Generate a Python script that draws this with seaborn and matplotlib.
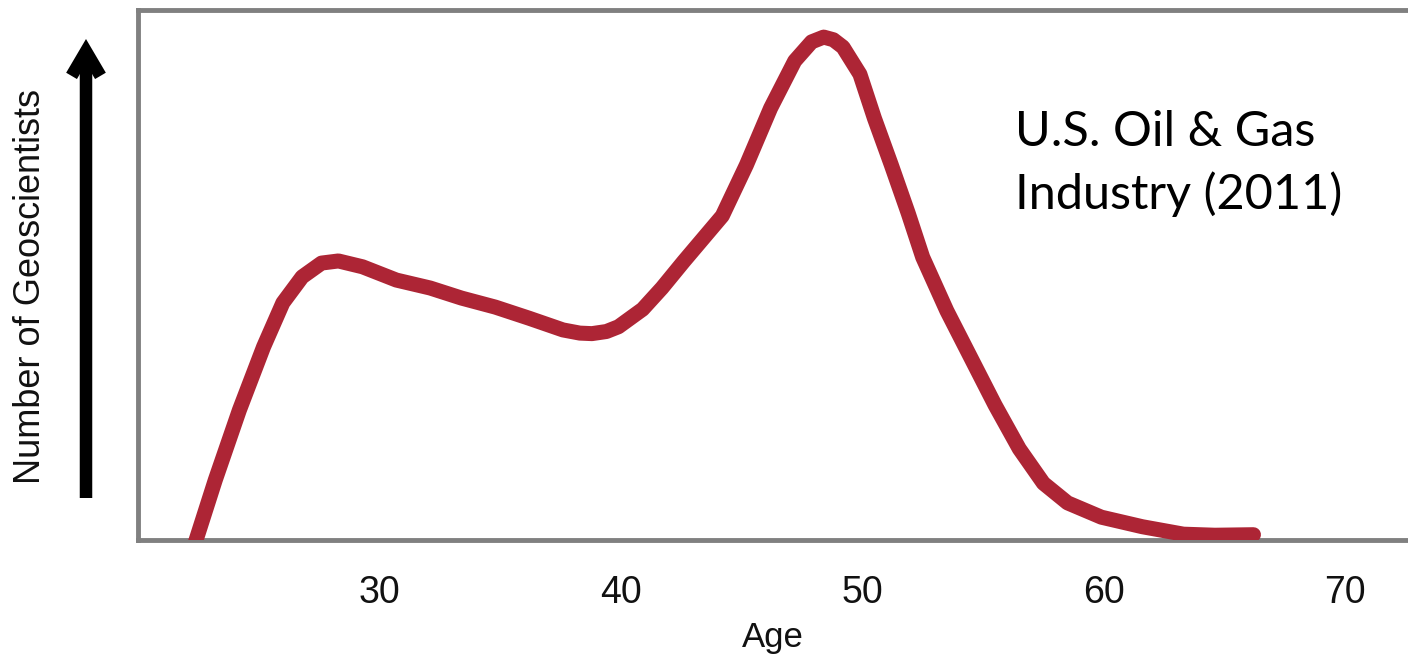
import numpy as np
import pandas as pd
import matplotlib
matplotlib.use("Agg")
import matplotlib.pyplot as plt
import seaborn as sns

# curve (age vs relative number of geoscientists, 0-100 = axis height)
ages = [22.3, 23.2, 24.2, 25.2, 26.0, 26.8, 27.6, 28.3, 29.3, 30.7, 32.1, 33.4, 34.8,
        36.2, 37.6, 38.3, 38.8, 39.4, 39.9, 40.9, 41.7, 42.6, 43.4, 44.2, 45.2, 46.2,
        47.2, 47.9, 48.4, 48.8, 49.2, 49.9, 50.5, 51.2, 51.9, 52.5, 53.5, 54.5, 55.5,
        56.5, 57.5, 58.5, 59.9, 61.6, 63.3, 64.6, 66.2]
counts = [-1.5, 11.3, 24.5, 36.4, 44.7, 49.6, 52.2, 52.6, 51.5, 49.0, 47.5, 45.6, 43.9,
          41.8, 39.6, 39.0, 38.9, 39.3, 40.2, 43.5, 47.5, 52.5, 56.8, 61.1, 70.7, 81.4,
          90.3, 93.9, 94.8, 94.3, 92.9, 87.8, 79.5, 70.7, 61.6, 53.3, 43.2, 34.3, 25.4,
          17.2, 10.7, 7.0, 4.3, 2.5, 1.1, 0.9, 1.0]
xticks = [30, 40, 50, 60, 70]
note = "U.S. Oil & Gas\nIndustry (2011)"

sns.set_theme(style="white")
plt.rcParams["font.family"] = ["Liberation Sans", "DejaVu Sans"]

fig = plt.figure(figsize=(14.08, 6.55), dpi=100)
W, H = 1408, 655
ax = fig.add_axes([138 / W, (H - 540) / H, (W - 138) / W, (540 - 9.5) / H])

df = pd.DataFrame({"Age": ages, "Number": counts})
sns.lineplot(data=df, x="Age", y="Number", ax=ax, color="#AD2535", linewidth=10.8,
             solid_capstyle="round", solid_joinstyle="round", zorder=3)

ax.set_xlim(20, 72.6)
ax.set_ylim(0, 100)
ax.set_xticks(xticks)
ax.set_xticklabels([str(t) for t in xticks], fontsize=27, color="#111111")
ax.set_yticks([])
ax.tick_params(axis="x", length=0, pad=25)
ax.set_ylabel("")
ax.set_xlabel("Age", fontsize=25, color="#111111")
ax.xaxis.set_label_coords(0.5, -0.152)

for side in ["top", "left", "bottom"]:
    ax.spines[side].set_visible(True)
    ax.spines[side].set_color("#808080")
    ax.spines[side].set_linewidth(3.5)
ax.spines["right"].set_visible(False)

fig.text(1015 / W, 1 - 110 / H, note, family=["Lato", "DejaVu Sans"], fontsize=35,
         ha="left", va="top", color="black", linespacing=1.45)

# y label and arrow outside the axes
fig.text(31 / W, 1 - 287 / H, "Number of Geoscientists", rotation=90, fontsize=26,
         ha="center", va="center", color="#111111")
ax.annotate("", xy=(86, H - 39), xytext=(86, H - 498), xycoords="figure pixels",
            textcoords="figure pixels",
            arrowprops=dict(arrowstyle="->,head_length=0.34,head_width=0.2",
                            mutation_scale=52, lw=9, color="black",
                            shrinkA=0, shrinkB=0, joinstyle="miter", capstyle="butt"),
            annotation_clip=False)

fig.savefig("out.png", dpi=100)
